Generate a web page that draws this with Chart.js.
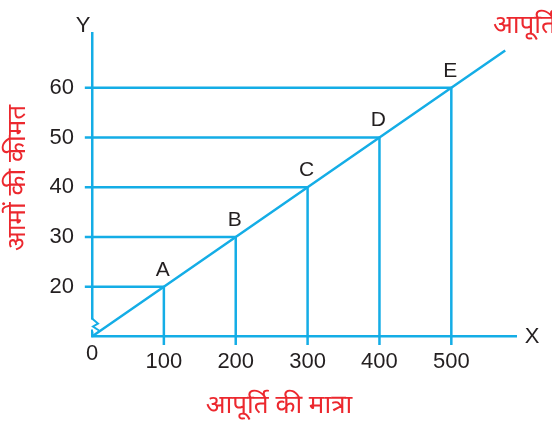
<!DOCTYPE html>
<html>
<head>
<meta charset="utf-8">
<script src="https://cdn.jsdelivr.net/npm/chart.js"></script>
<style>
  html, body { margin: 0; padding: 0; background: #fff; }
  #wrap { width: 552px; height: 421px; }
</style>
</head>
<body>
<div id="wrap"><canvas id="c" width="552" height="421"></canvas></div>
<script>
// Data
const quantity = [100, 200, 300, 400, 500];
const price = [20, 30, 40, 50, 60];
const pointNames = ['A', 'B', 'C', 'D', 'E'];
const supplyX = [0, 100, 200, 300, 400, 500, 575];
const supplyY = [10, 20, 30, 40, 50, 60, 67.5];
const xTicks = [0, 100, 200, 300, 400, 500];
const yTicks = [20, 30, 40, 50, 60];

const BLUE = '#14ade6';
const RED = '#ec282e';
const INK = '#231f20';
const LATIN = '"Liberation Sans", Arial, sans-serif';
const HINDI = "'Noto Sans Devanagari', 'Lohit Devanagari', 'Noto Sans', sans-serif";

// guide lines: stub left of Y axis, across to point, down just past X axis
const guides = quantity.map((q, i) => ({
  data: [{ x: -10, y: price[i] }, { x: q, y: price[i] }, { x: q, y: 8.3 }],
  borderColor: BLUE, borderWidth: 2.5, pointRadius: 0, showLine: true, clip: false
}));

const supply = {
  data: supplyX.map((x, i) => ({ x: x, y: supplyY[i] })),
  borderColor: BLUE, borderWidth: 2.5, pointRadius: 0, showLine: true, clip: false
};

const extras = {
  id: 'extras',
  afterDraw(chart) {
    const c = chart.ctx, xs = chart.scales.x, ys = chart.scales.y;
    const ox = xs.getPixelForValue(xTicks[0]), oy = ys.getPixelForValue(10);
    c.save();
    // axis break zigzag
    c.strokeStyle = BLUE; c.lineWidth = 2;
    c.fillStyle = '#fff';
    c.fillRect(ox - 2, oy - 17, 4, 12);
    c.beginPath();
    c.moveTo(ox, oy - 18);
    c.lineTo(ox + 6, oy - 13);
    c.lineTo(ox + 1, oy - 10);
    c.lineTo(ox + 7, oy - 6);
    c.moveTo(ox, oy - 7); c.lineTo(ox, oy);
    c.stroke();

    // point letters
    c.fillStyle = INK;
    c.font = '21px ' + LATIN;
    c.textAlign = 'center'; c.textBaseline = 'middle';
    quantity.forEach((q, i) => {
      c.fillText(pointNames[i], xs.getPixelForValue(q) - 1, ys.getPixelForValue(price[i]) - 17);
    });
    c.font = '22px ' + LATIN;
    c.fillText('Y', ox - 9, chart.chartArea.top - 7);
    c.fillText('X', xs.right + 16, oy);
    c.fillText(String(xTicks[0]), ox, oy + 17);

    // red labels
    c.fillStyle = RED;
    c.font = '26px ' + HINDI;
    c.textAlign = 'left';
    c.fillText('आपूर्ति', 493, 28);
    c.textAlign = 'center';
    c.fillText('आपूर्ति की मात्रा', 279, 408);
    c.translate(20, 178);
    c.rotate(-Math.PI / 2);
    c.fillText('आमों की कीमत', 0, 0);
    c.restore();
  }
};

new Chart(document.getElementById('c'), {
  type: 'scatter',
  data: { datasets: [...guides, supply] },
  options: {
    responsive: false,
    animation: false,
    layout: { padding: { top: 33, right: 36, bottom: 0, left: 0 } },
    plugins: { legend: { display: false }, tooltip: { enabled: false } },
    scales: {
      x: {
        type: 'linear', min: 0, max: 590,
        afterBuildTicks: s => { s.ticks = xTicks.slice(1).map(v => ({ value: v })); },
        afterFit: s => { s.height = 84.5; s.paddingLeft = 0; s.paddingRight = 0; },
        ticks: { color: INK, padding: 12, maxRotation: 0, autoSkip: false,
          font: { family: LATIN, size: 22 } },
        grid: { display: false, drawTicks: false },
        border: { color: BLUE, width: 2.5 }
      },
      y: {
        type: 'linear', min: 10, max: 71,
        afterBuildTicks: s => { s.ticks = yTicks.map(v => ({ value: v })); },
        afterFit: s => { s.width = 92; s.paddingTop = 0; s.paddingBottom = 0; },
        ticks: { color: INK, padding: 18,
          font: { family: LATIN, size: 22 } },
        grid: { display: false, drawTicks: false },
        border: { color: BLUE, width: 2.5 }
      }
    }
  },
  plugins: [extras]
});
</script>
</body>
</html>
